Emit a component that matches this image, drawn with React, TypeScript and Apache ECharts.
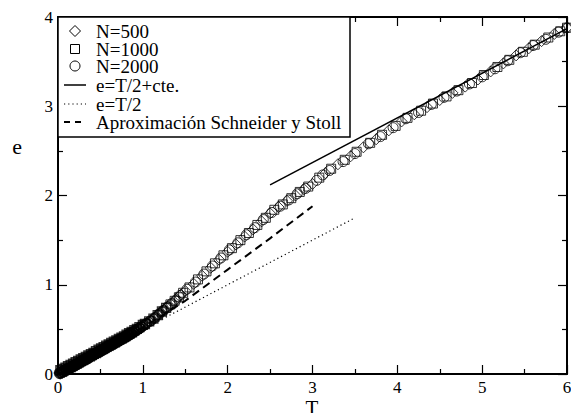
import React, { useEffect, useRef } from "react";
import * as echarts from "echarts";

const xTicks = [0, 1, 2, 3, 4, 5, 6];
const yTicks = [0, 1, 2, 3, 4];

const n500: number[][] = [
  [0.025, 0.01], [0.05, 0.02], [0.075, 0.03], [0.1, 0.04], [0.125, 0.055], [0.15, 0.07], [0.175, 0.08],
  [0.2, 0.09], [0.225, 0.105], [0.25, 0.12], [0.275, 0.13], [0.3, 0.145], [0.325, 0.16], [0.35, 0.17],
  [0.375, 0.185], [0.4, 0.2], [0.425, 0.21], [0.45, 0.225], [0.475, 0.24], [0.5, 0.25], [0.525, 0.265],
  [0.55, 0.28], [0.575, 0.29], [0.6, 0.305], [0.625, 0.32], [0.65, 0.33], [0.675, 0.345], [0.7, 0.36],
  [0.725, 0.37], [0.75, 0.385], [0.775, 0.4], [0.8, 0.41], [0.825, 0.425], [0.85, 0.44], [0.875, 0.455],
  [0.9, 0.47], [0.925, 0.485], [0.95, 0.5], [0.975, 0.515], [1.0, 0.53],
  [1.05, 0.57], [1.1, 0.6], [1.15, 0.64], [1.2, 0.68],
  [1.25, 0.72], [1.3, 0.76], [1.35, 0.8], [1.4, 0.84], [1.45, 0.89], [1.5, 0.93], [1.6, 1.01], [1.7, 1.1],
  [1.8, 1.19], [1.9, 1.28], [2.0, 1.37], [2.1, 1.45], [2.2, 1.54], [2.3, 1.62], [2.4, 1.71], [2.5, 1.8],
  [2.6, 1.87], [2.7, 1.94], [2.8, 2.0], [2.9, 2.07], [3.0, 2.13], [3.15, 2.25], [3.3, 2.35], [3.45, 2.44],
  [3.6, 2.54], [3.75, 2.63], [3.9, 2.73], [4.05, 2.83], [4.2, 2.91], [4.35, 2.99], [4.5, 3.07], [4.65, 3.15],
  [4.8, 3.22], [4.95, 3.3], [5.1, 3.39], [5.25, 3.48], [5.4, 3.57], [5.55, 3.65], [5.7, 3.73], [5.85, 3.81], [6.0, 3.88],
];

const n1000: number[][] = [
  [0.03, 0.04], [0.06, 0.055], [0.09, 0.07], [0.12, 0.085], [0.15, 0.1], [0.18, 0.115], [0.21, 0.13],
  [0.24, 0.145], [0.27, 0.16], [0.3, 0.175], [0.33, 0.19], [0.36, 0.205], [0.39, 0.22], [0.42, 0.235],
  [0.45, 0.255], [0.48, 0.27], [0.51, 0.285], [0.54, 0.3], [0.57, 0.315], [0.6, 0.33], [0.63, 0.345],
  [0.66, 0.36], [0.69, 0.375], [0.72, 0.39], [0.75, 0.405], [0.78, 0.42], [0.81, 0.44], [0.84, 0.455],
  [0.87, 0.47], [0.9, 0.49], [0.93, 0.505], [0.96, 0.525], [1.0, 0.55],
  [1.025, 0.56], [1.075, 0.59],
  [1.125, 0.62], [1.175, 0.66], [1.225, 0.7], [1.275, 0.74], [1.325, 0.78], [1.375, 0.82], [1.425, 0.86],
  [1.475, 0.91], [1.55, 0.97], [1.65, 1.06], [1.75, 1.15], [1.85, 1.24], [1.95, 1.33], [2.05, 1.41], [2.15, 1.5],
  [2.25, 1.58], [2.35, 1.67], [2.45, 1.75], [2.55, 1.84], [2.65, 1.9], [2.75, 1.97], [2.85, 2.04], [2.95, 2.1],
  [3.08, 2.2], [3.22, 2.3], [3.38, 2.4], [3.52, 2.49], [3.68, 2.59], [3.82, 2.68], [3.98, 2.78], [4.12, 2.87],
  [4.28, 2.95], [4.42, 3.03], [4.58, 3.11], [4.72, 3.18], [4.88, 3.26], [5.02, 3.35], [5.18, 3.44], [5.32, 3.52],
  [5.48, 3.61], [5.62, 3.69], [5.78, 3.77], [5.92, 3.84], [6.0, 3.88],
];

const n2000: number[][] = [
  [0.02, 0.01], [0.04, 0.02], [0.06, 0.03], [0.08, 0.04], [0.1, 0.05], [0.12, 0.06], [0.14, 0.07], [0.16, 0.08],
  [0.18, 0.09], [0.2, 0.1], [0.22, 0.11], [0.24, 0.12], [0.26, 0.135], [0.28, 0.145], [0.3, 0.155], [0.32, 0.165],
  [0.34, 0.175], [0.36, 0.185], [0.38, 0.2], [0.4, 0.21], [0.42, 0.22], [0.44, 0.23], [0.46, 0.24], [0.48, 0.25],
  [0.5, 0.26], [0.52, 0.27], [0.54, 0.28], [0.56, 0.29], [0.58, 0.305], [0.6, 0.315], [0.62, 0.325], [0.64, 0.335],
  [0.66, 0.345], [0.68, 0.355], [0.7, 0.37], [0.72, 0.38], [0.74, 0.39], [0.76, 0.4], [0.78, 0.41], [0.8, 0.42],
  [0.82, 0.435], [0.84, 0.445], [0.86, 0.455], [0.88, 0.47], [0.9, 0.48], [0.92, 0.49], [0.94, 0.505],
  [0.96, 0.515], [0.98, 0.53], [1.0, 0.54],
  [1.04, 0.565], [1.09, 0.595], [1.14, 0.63], [1.19, 0.67], [1.24, 0.71], [1.29, 0.75], [1.34, 0.79], [1.39, 0.83],
  [1.44, 0.88], [1.52, 0.95], [1.62, 1.03], [1.72, 1.12], [1.82, 1.21], [1.92, 1.3], [2.02, 1.39], [2.12, 1.47],
  [2.22, 1.56], [2.32, 1.64], [2.42, 1.73], [2.52, 1.81], [2.62, 1.88], [2.72, 1.95], [2.82, 2.02], [2.92, 2.08],
  [3.05, 2.17], [3.12, 2.23], [3.2, 2.28], [3.36, 2.38], [3.5, 2.47], [3.66, 2.58], [3.8, 2.66], [3.95, 2.76],
  [4.1, 2.86], [4.25, 2.93], [4.4, 3.02], [4.55, 3.1], [4.7, 3.17], [4.85, 3.25], [5.0, 3.33], [5.15, 3.42],
  [5.3, 3.51], [5.45, 3.6], [5.6, 3.68], [5.75, 3.75], [5.9, 3.83], [6.0, 3.88],
];

const fitLine: number[][] = [[2.5, 2.12], [6.0, 3.87]];
const halfLine: number[][] = [[0, 0], [3.5, 1.75]];
const schneider: number[][] = [[0, 0], [0.5, 0.25], [1.0, 0.52], [1.5, 0.82], [2.0, 1.17], [2.5, 1.52], [3.0, 1.88]];

const legendLabels = ["N=500", "N=1000", "N=2000", "e=T/2+cte.", "e=T/2", "Aproximación Schneider y Stoll"];

const FONT = "Liberation Serif";

function axisBase(show: boolean, min: number, max: number, ticks: number[]) {
  return {
    type: "value",
    min,
    max,
    interval: ticks[1] - ticks[0],
    axisLine: { show: true, onZero: false, lineStyle: { color: "#000", width: 2 } },
    axisTick: { show: true, inside: true, length: 9, lineStyle: { color: "#000", width: 1.2 } },
    minorTick: { show: true, splitNumber: 2, length: 5, lineStyle: { color: "#000", width: 1.2 } },
    splitLine: { show: false },
    axisLabel: { show, color: "#000", fontFamily: FONT, fontSize: 17, margin: 5 },
  };
}

// denser-looking band at low T: slightly heavier outline where points pile up
function toPoints(arr: number[][]) {
  return arr.map((p) => ({
    value: p,
    itemStyle: { borderWidth: p[0] < 0.9 ? 1.7 : p[0] < 1.3 ? 1.3 : 1 },
  }));
}

export default function App() {
  const ref = useRef<HTMLDivElement>(null);
  useEffect(() => {
    const chart = echarts.init(ref.current!, null, { renderer: "svg" });
    const marker = {
      color: "rgba(0,0,0,0)",
      borderColor: "#000",
      borderWidth: 1,
    };
    const rowY = [31, 49, 66, 85, 104, 122];
    const graphics: any[] = [
      {
        type: "rect",
        shape: { x: 58, y: 17, width: 292, height: 120 },
        style: { fill: "#fff", stroke: "#000", lineWidth: 1.5 },
        z: 100,
      },
      {
        type: "polygon",
        shape: { points: [[75, rowY[0] - 5.5], [80.5, rowY[0]], [75, rowY[0] + 5.5], [69.5, rowY[0]]] },
        style: { fill: "none", stroke: "#000", lineWidth: 1 },
        z: 101,
      },
      {
        type: "rect",
        shape: { x: 70.5, y: rowY[1] - 4.5, width: 9, height: 9 },
        style: { fill: "none", stroke: "#000", lineWidth: 1 },
        z: 101,
      },
      {
        type: "circle",
        shape: { cx: 75, cy: rowY[2], r: 5 },
        style: { fill: "none", stroke: "#000", lineWidth: 1 },
        z: 101,
      },
      {
        type: "line",
        shape: { x1: 64, y1: rowY[3], x2: 86, y2: rowY[3] },
        style: { stroke: "#000", lineWidth: 1.5 },
        z: 101,
      },
      {
        type: "line",
        shape: { x1: 64, y1: rowY[4], x2: 86, y2: rowY[4] },
        style: { stroke: "#000", lineWidth: 1.2, lineDash: [1.2, 3] },
        z: 101,
      },
      {
        type: "line",
        shape: { x1: 64, y1: rowY[5], x2: 86, y2: rowY[5] },
        style: { stroke: "#000", lineWidth: 2, lineDash: [6, 5] },
        z: 101,
      },
      ...legendLabels.map((t, i) => ({
        type: "text",
        x: 96,
        y: rowY[i],
        style: {
          text: t, fill: "#000", fontFamily: FONT, fontSize: 19, lineHeight: 16,
          textVerticalAlign: "middle",
        },
        z: 101,
      })),
      {
        type: "text",
        x: 17,
        y: 146,
        style: { text: "e", fill: "#000", fontFamily: FONT, fontSize: 22, textAlign: "center", textVerticalAlign: "middle" },
      },
      {
        type: "text",
        x: 312,
        y: 408,
        style: { text: "T", fill: "#000", fontFamily: FONT, fontSize: 21, textAlign: "center", textVerticalAlign: "middle" },
      },
    ];

    chart.setOption({
      animation: false,
      backgroundColor: "#fff",
      grid: { left: 58, right: 4, top: 17, bottom: 39, containLabel: false, outerBoundsMode: "none" },
      xAxis: [
        { ...axisBase(true, xTicks[0], xTicks[xTicks.length - 1], xTicks), position: "bottom" },
        { ...axisBase(false, xTicks[0], xTicks[xTicks.length - 1], xTicks), position: "top" },
      ],
      yAxis: [
        { ...axisBase(true, yTicks[0], yTicks[yTicks.length - 1], yTicks), position: "left" },
        { ...axisBase(false, yTicks[0], yTicks[yTicks.length - 1], yTicks), position: "right" },
      ],
      series: [
        { type: "scatter", name: "N=500", data: toPoints(n500), symbol: "diamond", symbolSize: 11, itemStyle: marker },
        { type: "scatter", name: "N=1000", data: toPoints(n1000), symbol: "rect", symbolSize: 9, itemStyle: marker },
        { type: "scatter", name: "N=2000", data: toPoints(n2000), symbol: "circle", symbolSize: 10, itemStyle: marker },
        {
          type: "line", name: "fit", data: fitLine, symbol: "none", showSymbol: false,
          lineStyle: { color: "#000", width: 1.5 },
        },
        {
          type: "line", name: "half", data: halfLine, symbol: "none", showSymbol: false,
          lineStyle: { color: "#000", width: 1.2, type: [1.2, 3] },
        },
        {
          type: "line", name: "schneider", data: schneider, symbol: "none", showSymbol: false,
          lineStyle: { color: "#000", width: 2, type: [8, 5] },
        },
      ],
      graphic: graphics,
    });
    return () => chart.dispose();
  }, []);
  return (
    <div
      ref={ref}
      style={{ position: "fixed", left: 0, top: 0, width: 571, height: 413, background: "#fff" }}
    />
  );
}
